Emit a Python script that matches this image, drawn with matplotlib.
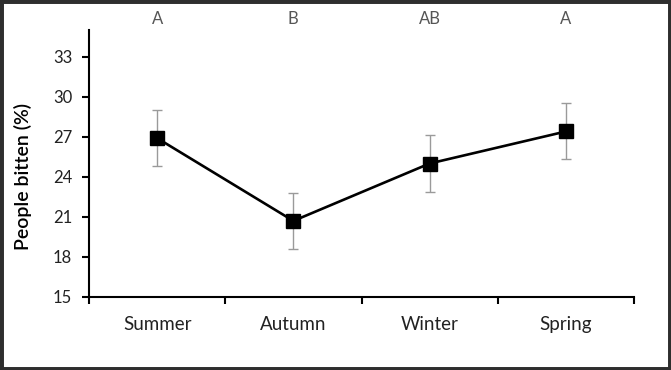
import numpy as np
import matplotlib.pyplot as plt
from matplotlib.patches import Rectangle

# ---- data ----
seasons = ["Summer", "Autumn", "Winter", "Spring"]
bitten = [26.9, 20.7, 25.0, 27.4]
err = [2.1, 2.1, 2.1, 2.1]
letters = ["A", "B", "AB", "A"]

plt.rcParams["font.family"] = ["Lato", "DejaVu Sans"]

fig = plt.figure(figsize=(6.71, 3.70), dpi=100)
ax = fig.add_axes([0.1326, 0.1973, 0.8123, 0.7216])

x = np.arange(len(seasons))
ax.errorbar(x, bitten, yerr=err, fmt="none", ecolor="#9a9a9a", elinewidth=1.0,
            capsize=3.6, capthick=1.0, zorder=1)
ax.plot(x, bitten, "-s", color="black", linewidth=1.9, markersize=9.5, zorder=2)

ax.set_xlim(-0.5, 3.5)
ax.set_ylim(15, 35)
ax.set_yticks(np.arange(15, 34, 3))
ax.set_xticks(x)
ax.set_xticklabels(seasons)
ax.set_xticks(np.arange(-0.5, 3.6, 1), minor=True)
ax.tick_params(axis="x", which="major", length=0, pad=14, labelsize=13.5, labelcolor="#222222")
ax.tick_params(axis="x", which="minor", length=5, width=1.5, direction="out")
ax.tick_params(axis="y", length=5, width=1.5, direction="out", pad=7,
               labelsize=12, labelcolor="#222222")

for s in ["top", "right"]:
    ax.spines[s].set_visible(False)
for s in ["left", "bottom"]:
    ax.spines[s].set_linewidth(1.5)

ax.set_ylabel("People bitten (%)", fontsize=14, fontweight="semibold")
ax.yaxis.set_label_coords(-0.105, 0.45)

for xi, lab in zip(x, letters):
    ax.text(xi, 35.8, lab, ha="center", va="center", fontsize=12,
            color="#555555", clip_on=False)

# outer frame
fig.patches.append(Rectangle((0, 0), 1, 1, transform=fig.transFigure, fill=False,
                             edgecolor="#2e2e2e", linewidth=5))

fig.savefig("out.png", dpi=100)
